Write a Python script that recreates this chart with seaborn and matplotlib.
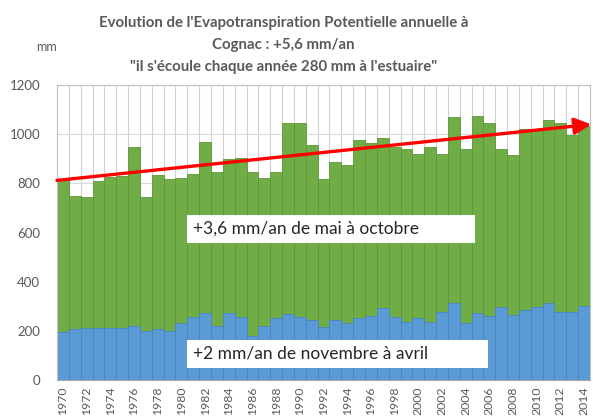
import numpy as np
import pandas as pd
import seaborn as sns
import matplotlib.pyplot as plt

# Annual potential evapotranspiration at Cognac (mm)
years = list(range(1970, 2015))
etp_nov_avr = [194, 206, 213, 213, 213, 213, 221, 200, 207, 200,
               230, 255, 271, 220, 271, 255, 179, 220, 251, 267,
               255, 244, 214, 244, 233, 251, 260, 291, 255, 237,
               251, 237, 278, 314, 230, 271, 260, 295, 264, 285,
               295, 314, 278, 278, 301]
etp_mai_oct = [619, 543, 531, 597, 613, 618, 725, 544, 626, 617,
               590, 584, 698, 625, 626, 650, 666, 600, 595, 780,
               792, 714, 602, 643, 641, 725, 706, 695, 691, 701,
               668, 712, 643, 756, 708, 803, 786, 645, 652, 738,
               728, 743, 766, 720, 731]
trend = [812, 1040]  # red arrow, start / end value

df = pd.DataFrame({"annee": [str(y) for y in years],
                   "nov_avr": etp_nov_avr,
                   "mai_oct": etp_mai_oct})
df["total"] = df["nov_avr"] + df["mai_oct"]

sns.set_style("white")
plt.rcParams["font.family"] = ["Lato", "DejaVu Sans"]

grey = "#595959"
green = "#70AD47"
blue = "#5B9BD5"

fig = plt.figure(figsize=(5.93, 4.19), dpi=100)
ax = fig.add_axes([0.0961, 0.0931, 0.8989, 0.7040])

# stacked bars: total in green, winter part in blue on top of it
sns.barplot(data=df, x="annee", y="total", color=green, saturation=1,
            width=1.0, edgecolor="#5E9639", linewidth=0.6, ax=ax)
sns.barplot(data=df, x="annee", y="nov_avr", color=blue, saturation=1,
            width=1.0, edgecolor="#4A86C0", linewidth=0.6, ax=ax)

n = len(years)
ax.set_xlim(-0.5, n - 0.5)
ax.set_ylim(0, 1200)
ax.set_yticks(range(0, 1201, 200))
ax.set_xticks(range(0, n, 2))
ax.set_xticklabels(df["annee"][::2], rotation=90)
ax.set_xticks(np.arange(-0.5, n, 1), minor=True)
ax.tick_params(axis="x", which="major", length=0, pad=5, labelsize=8.8, labelcolor=grey)
ax.tick_params(axis="x", which="minor", length=5, color="#a6a6a6", width=0.8)
ax.tick_params(axis="y", length=0, pad=12, labelsize=9.5, labelcolor=grey)
ax.set_xlabel("")
ax.set_ylabel("")

ax.set_axisbelow(True)
ax.grid(axis="y", which="major", color="#d9d9d9", linewidth=0.8)
ax.grid(axis="x", which="minor", color="#d0d0d0", linewidth=0.8)
for s in ax.spines.values():
    s.set_color("#bfbfbf")
    s.set_linewidth(0.8)
ax.spines["bottom"].set_color("#a6a6a6")

# trend arrow (+5,6 mm/an)
ax.annotate("", xy=(n - 0.4, trend[1]), xytext=(-0.5, trend[0]),
            arrowprops=dict(arrowstyle="-|>,head_length=1.0,head_width=0.5",
                            color="#FF0000", lw=2.4, shrinkA=0, shrinkB=0),
            annotation_clip=False)

box = dict(facecolor="white", edgecolor="none", boxstyle="square,pad=0.35")
ax.text(11.0, 614, "+3,6 mm/an de mai à octobre           ", ha="left", va="center",
        fontsize=12.5, color="#262626", bbox=box)
ax.text(11.0, 106, "+2 mm/an de novembre à avril            ", ha="left", va="center",
        fontsize=12.5, color="#262626", bbox=box)

fig.text(0.478, 0.962, "Evolution de l'Evapotranspiration Potentielle annuelle à\n"
         "Cognac : +5,6 mm/an\n"
         "\"il s'écoule chaque année 280 mm à l'estuaire\"",
         ha="center", va="top", fontsize=10.8, fontweight="bold", color=grey,
         linespacing=1.72)
fig.text(0.078, 0.888, "mm", ha="center", va="center", fontsize=9, color=grey)

fig.savefig("out.png", dpi=100)
plt.close(fig)
